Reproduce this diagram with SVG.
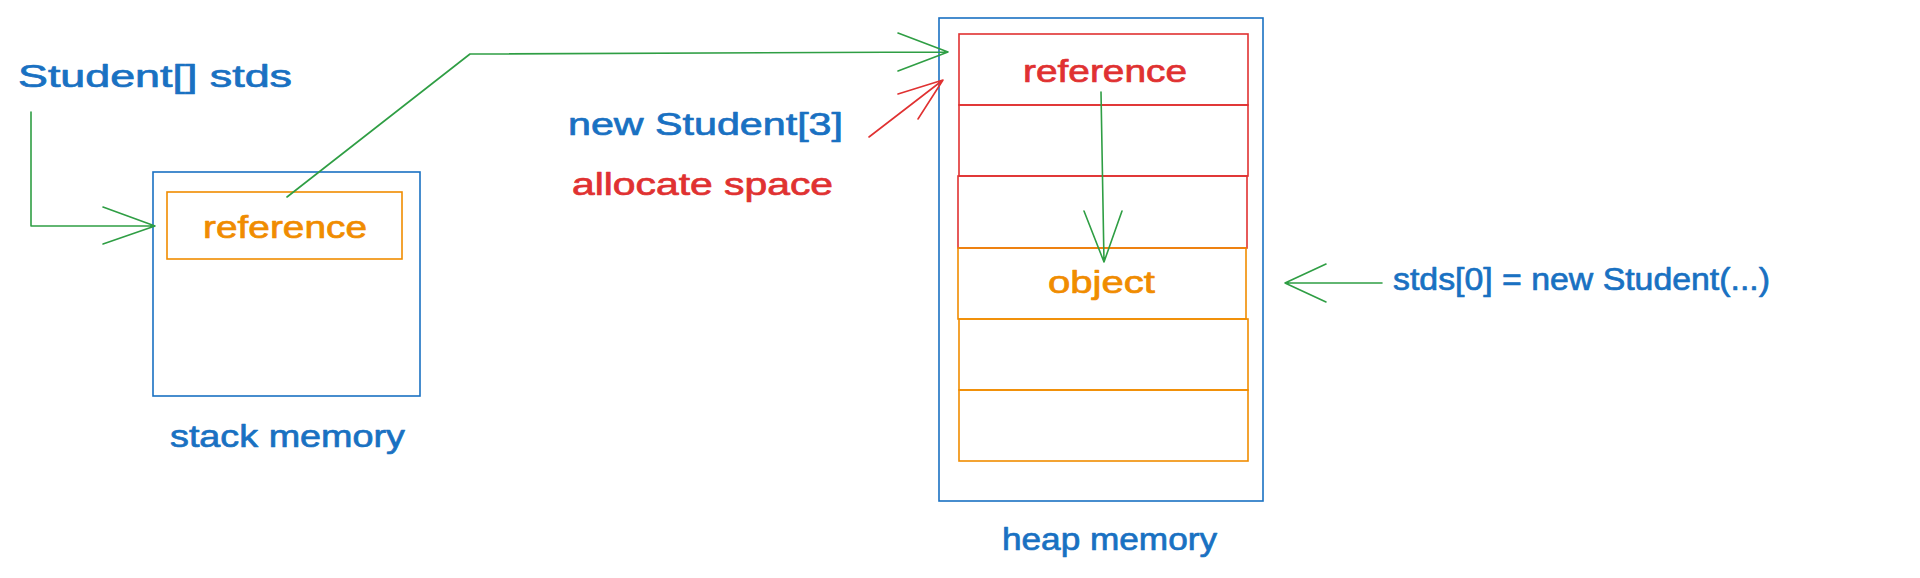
<svg xmlns="http://www.w3.org/2000/svg" width="1920" height="578" viewBox="0 0 1920 578">
<style>
.t{font-family:"Liberation Sans","DejaVu Sans",sans-serif;font-size:31px;stroke-width:0.7px;stroke-linejoin:round}
.blue{fill:#1971c2;stroke:#1971c2}.red{fill:#e03131;stroke:#e03131}.orange{fill:#f08c00;stroke:#f08c00}
.bx{fill:none;stroke-width:1.6}
.sb{stroke:#1971c2}.sr{stroke:#e03131}.so{stroke:#f08c00}
.g{fill:none;stroke:#2f9e44;stroke-width:1.6;stroke-linecap:round;stroke-linejoin:round}
.r{fill:none;stroke:#e03131;stroke-width:1.6;stroke-linecap:round;stroke-linejoin:round}
</style>
<rect width="1920" height="578" fill="#ffffff"/>
<g id="label-student-stds"><text class="t blue" x="18" y="87" textLength="274" lengthAdjust="spacingAndGlyphs">Student[] stds</text></g>
<g id="stack">
<rect class="bx sb" x="153" y="172" width="267" height="224"/>
<text class="t blue" x="170" y="447" textLength="235" lengthAdjust="spacingAndGlyphs">stack memory</text>
</g>
<g id="stack-reference">
<rect class="bx so" x="167" y="192" width="235" height="67"/>
<text class="t orange" x="203" y="238" textLength="164" lengthAdjust="spacingAndGlyphs">reference</text>
</g>
<g id="labels-new">
<text class="t blue" x="568" y="135" textLength="275" lengthAdjust="spacingAndGlyphs">new Student[3]</text>
<text class="t red" x="572" y="195" textLength="261" lengthAdjust="spacingAndGlyphs">allocate space</text>
</g>
<g id="heap">
<rect class="bx sb" x="939" y="18" width="324" height="483"/>
<text class="t blue" x="1002" y="550" textLength="215" lengthAdjust="spacingAndGlyphs">heap memory</text>
</g>
<g id="heap-slot-0">
<rect class="bx sr" x="959" y="34" width="289" height="71"/>
<text class="t red" x="1023" y="82" textLength="164" lengthAdjust="spacingAndGlyphs">reference</text>
</g>
<g id="heap-slot-1"><rect class="bx sr" x="959" y="105" width="289" height="71"/></g>
<g id="heap-slot-2"><rect class="bx sr" x="958" y="176" width="289" height="72"/></g>
<g id="heap-object-0">
<rect class="bx so" x="958" y="248" width="288" height="71"/>
<text class="t orange" x="1048" y="293" textLength="107" lengthAdjust="spacingAndGlyphs">object</text>
</g>
<g id="heap-object-1"><rect class="bx so" x="959" y="319" width="289" height="71"/></g>
<g id="heap-object-2"><rect class="bx so" x="959" y="390" width="289" height="71"/></g>
<g id="label-assign"><text class="t blue" x="1393" y="290" textLength="377" lengthAdjust="spacingAndGlyphs">stds[0] = new Student(...)</text></g>
<g id="connectors">
<path class="g" d="M31 112 L31 226 L155 226 M103 207 L155 226 L103 244"/>
<path class="g" d="M287 197 L470 54 L948 52 M898 33 L948 52 L898 71"/>
<path class="r" d="M869 137 L943 80 M898 94 L943 80 L918 119"/>
<path class="g" d="M1101 92 L1104 262 M1084 211 L1104 262 L1122 211"/>
<path class="g" d="M1382 283 L1285 283 M1326 264 L1285 283 L1326 302"/>
</g>
</svg>
